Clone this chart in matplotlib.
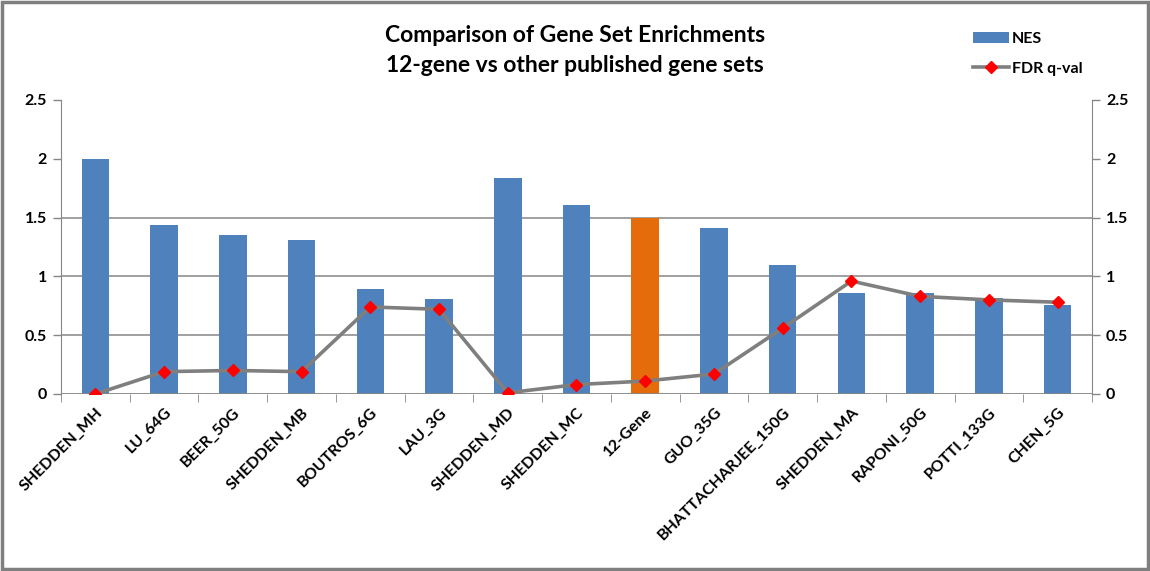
import numpy as np
import matplotlib.pyplot as plt
from matplotlib.patches import Rectangle

plt.rcParams['font.family'] = ['Lato', 'DejaVu Sans']

# Gene sets, normalized enrichment scores and FDR q-values
gene_sets = ["SHEDDEN_MH", "LU_64G", "BEER_50G", "SHEDDEN_MB", "BOUTROS_6G",
             "LAU_3G", "SHEDDEN_MD", "SHEDDEN_MC", "12-Gene", "GUO_35G",
             "BHATTACHARJEE_150G", "SHEDDEN_MA", "RAPONI_50G", "POTTI_133G", "CHEN_5G"]
nes = [2.00, 1.44, 1.35, 1.31, 0.89, 0.81, 1.84, 1.61, 1.50, 1.41, 1.10, 0.86, 0.86, 0.82, 0.76]
fdr_q = [0.00, 0.19, 0.20, 0.19, 0.74, 0.72, 0.01, 0.08, 0.11, 0.17, 0.56, 0.96, 0.83, 0.80, 0.78]
highlight = "12-Gene"

blue = "#4F81BD"
orange = "#E46C0A"
grid_gray = "#868686"

fig = plt.figure(figsize=(11.5, 5.71), dpi=100)
ax = fig.add_axes([0.053, 0.31, 0.8966, 0.515])
ax2 = ax.twinx()

x = np.arange(len(gene_sets))
colors = [orange if g == highlight else blue for g in gene_sets]
bars = ax.bar(x, nes, width=0.4, color=colors, zorder=2, label="NES")

line, = ax2.plot(x, fdr_q, color="#7F7F7F", lw=2.6, marker="D", markersize=6.5,
                 markerfacecolor="red", markeredgecolor="red", zorder=3, label="FDR q-val")

for a in (ax, ax2):
    a.set_ylim(0, 2.5)
    a.set_yticks([0, 0.5, 1, 1.5, 2, 2.5])
    a.set_yticklabels(["0", "0.5", "1", "1.5", "2", "2.5"], fontsize=11.5, fontweight="bold")
    a.tick_params(axis="y", length=6, width=1, color=grid_gray, pad=4)
    for s in a.spines.values():
        s.set_visible(False)
ax.set_xlim(-0.5, len(gene_sets) - 0.5)

# horizontal gridlines
for yv in [0.5, 1.0, 1.5]:
    ax.axhline(yv, color=grid_gray, lw=1.1, zorder=1)
ax.axhline(0, color=grid_gray, lw=1.3, zorder=4)
ax.spines["left"].set_visible(True)
ax.spines["left"].set_color(grid_gray)
ax2.spines["right"].set_visible(True)
ax2.spines["right"].set_color(grid_gray)

# category ticks sit between the bars
ax.set_xticks(np.arange(len(gene_sets) + 1) - 0.5, minor=True)
ax.tick_params(axis="x", which="minor", length=6, color=grid_gray, direction="out")
ax.set_xticks(x)
ax.set_xticklabels(gene_sets, rotation=45, ha="right", rotation_mode="anchor",
                   fontsize=11.5, fontweight="bold")
ax.tick_params(axis="x", which="major", length=0, pad=8)

ax.set_zorder(ax2.get_zorder() - 1)
ax2.patch.set_visible(False)

fig.text(0.5, 0.938, "Comparison of Gene Set Enrichments", ha="center", va="center",
         fontsize=16.5, fontweight="bold")
fig.text(0.5, 0.885, "12-gene vs other published gene sets", ha="center", va="center",
         fontsize=16.5, fontweight="bold")

fig.legend(handles=[bars, line], labels=["NES", "FDR q-val"], loc="upper left",
           bbox_to_anchor=(0.834, 0.97), frameon=False,
           prop={"weight": "bold", "size": 11.5}, handlelength=2.2, handletextpad=0.2,
           labelspacing=1.0)

# outer border of the chart area
fig.patches.append(Rectangle((0.002, 0.004), 0.996, 0.992, transform=fig.transFigure,
                             fill=False, edgecolor="#7F7F7F", lw=2.5))

fig.savefig("out.png", dpi=100)
